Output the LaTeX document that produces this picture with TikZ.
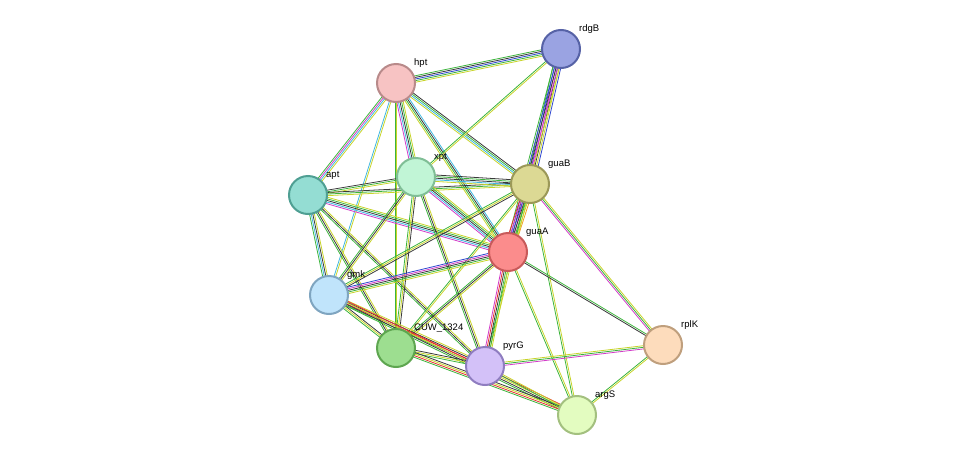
\documentclass[tikz,border=0pt]{standalone}
\usepackage{fontspec}
\setmainfont{Liberation Sans}
\usetikzlibrary{calc}
\definecolor{lyel}{HTML}{C8D42A}
\definecolor{lgrn}{HTML}{3CB43C}
\definecolor{lcya}{HTML}{3FB8E0}
\definecolor{lmag}{HTML}{D23CC8}
\definecolor{lblk}{HTML}{3A3A3A}
\definecolor{lblu}{HTML}{3048D0}
\definecolor{lred}{HTML}{E83030}
\definecolor{lorg}{HTML}{F0A020}
\pgfdeclarelayer{bg}
\pgfsetlayers{bg,main}
\tikzset{
  prot/.style={circle, minimum size=38pt, inner sep=0pt, line width=2pt},
  link/.style={line width=0.8pt},
  lab/.style={font=\fontsize{9.5}{10}\selectfont, inner sep=1pt}
}
\newcommand\strlink[3]{%
  \xdef\nlinks{0}%
  \foreach \c in {#3}{\xdef\nlinks{\the\numexpr\nlinks+1\relax}}%
  \foreach \c [count=\i] in {#3}{%
    \pgfmathsetmacro\off{(\i-(\nlinks+1)/2)*1.6}%
    \draw[\c, link] ($(#1)!\off pt!90:(#2)$) -- ($(#2)!\off pt!-90:(#1)$);}}
\begin{document}
\begin{tikzpicture}[x=1pt, y=-1pt]
  \useasboundingbox (0,0) rectangle (975,461);
  % proteins
  \node[prot, draw={rgb,255:red,86;green,98;blue,166}, fill={rgb,255:red,154;green,163;blue,226}] (rdgB) at (561,49) {};
  \node[prot, draw={rgb,255:red,184;green,138;blue,138}, fill={rgb,255:red,247;green,195;blue,195}] (hpt) at (396,83) {};
  \node[prot, draw={rgb,255:red,79;green,159;blue,147}, fill={rgb,255:red,148;green,221;blue,211}] (apt) at (308,195) {};
  \node[prot, draw={rgb,255:red,128;green,190;blue,150}, fill={rgb,255:red,193;green,245;blue,214}] (xpt) at (416,177) {};
  \node[prot, draw={rgb,255:red,155;green,152;blue,88}, fill={rgb,255:red,220;green,217;blue,148}] (guaB) at (530,184) {};
  \node[prot, draw={rgb,255:red,200;green,90;blue,90}, fill={rgb,255:red,251;green,140;blue,140}] (guaA) at (508,252) {};
  \node[prot, draw={rgb,255:red,127;green,165;blue,192}, fill={rgb,255:red,192;green,228;blue,251}] (gmk) at (329,295) {};
  \node[prot, draw={rgb,255:red,94;green,166;blue,80}, fill={rgb,255:red,157;green,222;blue,144}] (cuw) at (396,348) {};
  \node[prot, draw={rgb,255:red,143;green,125;blue,192}, fill={rgb,255:red,211;green,193;blue,248}] (pyrG) at (485,366) {};
  \node[prot, draw={rgb,255:red,191;green,159;blue,125}, fill={rgb,255:red,253;green,220;blue,188}] (rplK) at (663,345) {};
  \node[prot, draw={rgb,255:red,163;green,192;blue,127}, fill={rgb,255:red,227;green,252;blue,192}] (argS) at (577,415) {};
  % labels
  \foreach \n/\t in {rdgB/rdgB, hpt/hpt, apt/apt, xpt/xpt, guaB/guaB, guaA/guaA, gmk/gmk, cuw/CUW\_1324, pyrG/pyrG, rplK/rplK, argS/argS}
    \node[lab, anchor=south west] (\n-lab) at ($(\n)+(17,-14)$) {\t};
  % links
  \begin{pgfonlayer}{bg}
    \strlink{hpt}{rdgB}{lyel,lgrn,lblu,lblk,lgrn}
    \strlink{hpt}{guaB}{lyel,lcya,lgrn,lblk}
    \strlink{hpt}{guaA}{lyel,lgrn,lblk,lcya}
    \strlink{hpt}{xpt}{lmag,lcya,lblk,lgrn,lyel}
    \strlink{hpt}{apt}{lgrn,lmag,lcya,lyel}
    \strlink{hpt}{gmk}{lcya,lyel}
    \strlink{hpt}{cuw}{lgrn,lyel}
    \strlink{rdgB}{guaB}{lgrn,lblu,lmag,lblk,lyel,lblu}
    \strlink{rdgB}{guaA}{lgrn,lblu,lblk,lmag,lyel}
    \strlink{rdgB}{xpt}{lgrn,lyel}
    \strlink{apt}{xpt}{lyel,lgrn,lblk}
    \strlink{apt}{guaB}{lyel,lgrn,lblk}
    \strlink{apt}{guaA}{lmag,lcya,lblk,lgrn,lyel}
    \strlink{apt}{gmk}{lgrn,lcya,lblk,lyel}
    \strlink{apt}{cuw}{lgrn,lblk,lyel}
    \strlink{apt}{pyrG}{lgrn,lblk,lyel}
    \strlink{xpt}{guaB}{lyel,lcya,lblk,lgrn,lblk}
    \strlink{xpt}{guaA}{lmag,lcya,lblk,lgrn,lyel}
    \strlink{xpt}{gmk}{lgrn,lblk,lyel}
    \strlink{xpt}{cuw}{lgrn,lyel,lblk}
    \strlink{xpt}{pyrG}{lgrn,lblk,lyel}
    \strlink{guaB}{guaA}{lred,lmag,lblu,lblk,lgrn,lyel,lorg}
    \strlink{guaB}{gmk}{lgrn,lyel,lblk}
    \strlink{guaB}{cuw}{lgrn,lyel}
    \strlink{guaB}{pyrG}{lgrn,lyel}
    \strlink{guaB}{rplK}{lmag,lgrn,lyel}
    \strlink{guaB}{argS}{lgrn,lyel}
    \strlink{guaA}{gmk}{lblu,lmag,lblk,lgrn,lyel}
    \strlink{guaA}{cuw}{lgrn,lblk,lyel}
    \strlink{guaA}{pyrG}{lmag,lred,lblk,lgrn,lyel}
    \strlink{guaA}{rplK}{lblk,lgrn}
    \strlink{guaA}{argS}{lgrn,lyel}
    \strlink{gmk}{cuw}{lgrn,lyel,lblk}
    \strlink{gmk}{pyrG}{lgrn,lred,lblk,lyel}
    \strlink{gmk}{argS}{lgrn,lblk,lyel,lred}
    \strlink{cuw}{pyrG}{lgrn,lyel,lblk}
    \strlink{cuw}{argS}{lgrn,lred,lyel,lblk}
    \strlink{pyrG}{rplK}{lmag,lgrn,lyel}
    \strlink{pyrG}{argS}{lgrn,lyel}
    \strlink{rplK}{argS}{lgrn,lyel}
  \end{pgfonlayer}
\end{tikzpicture}
\end{document}
